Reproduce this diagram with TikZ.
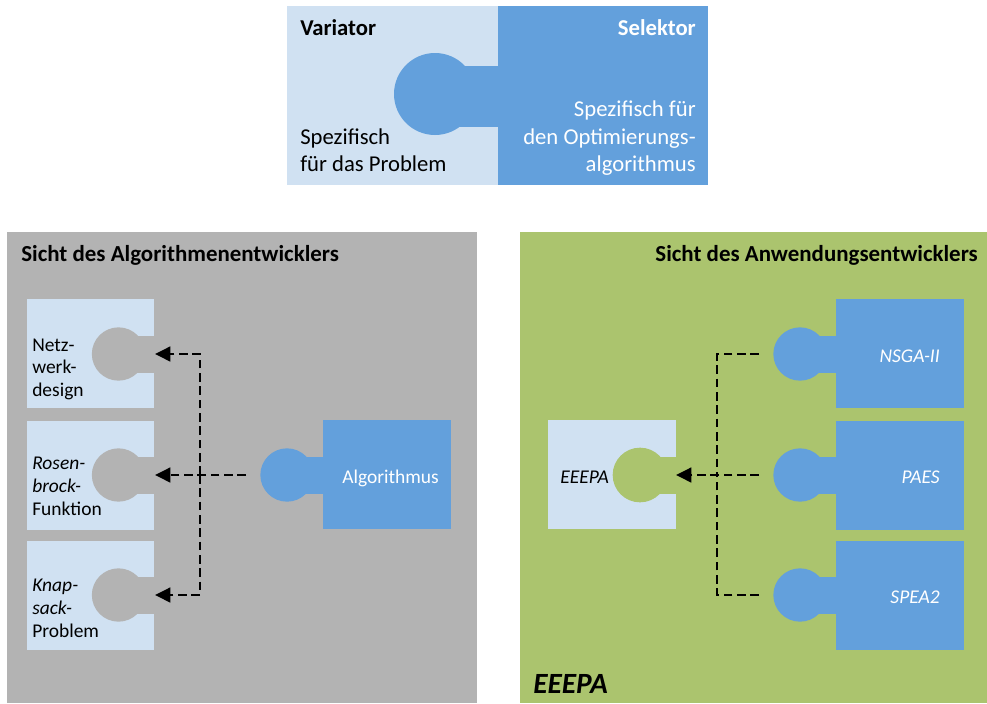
\documentclass[tikz,border=0pt]{standalone}
\usepackage{fontspec}
\setmainfont{Carlito}
\usetikzlibrary{arrows.meta}
\definecolor{lightblue}{HTML}{D0E1F2}
\definecolor{darkblue}{HTML}{63A0DC}
\definecolor{panelgray}{HTML}{B3B3B3}
\definecolor{panelgreen}{HTML}{ABC46E}
\tikzset{
  lbl/.style={inner sep=0pt, anchor=base west, font=\fontsize{14.6}{17}\selectfont},
  lblr/.style={lbl, anchor=base east},
  toplbl/.style={inner sep=0pt, anchor=base west, font=\fontsize{17}{20}\selectfont},
  toplblr/.style={toplbl, anchor=base east},
  title/.style={inner sep=0pt, font=\fontsize{17.2}{20}\selectfont\bfseries},
  conn/.style={draw=black, line width=1.9pt, dash pattern=on 6.5pt off 3.5pt},
  tip/.style={-{Triangle[length=11.5pt,width=11pt]}},
}
\begin{document}
\begin{tikzpicture}[x=0.75pt,y=-0.75pt]
\useasboundingbox (0,0) rectangle (987,703);
\fill[white] (0,0) rectangle (987,703);

% ---------- top: Variator / Selektor ----------
\fill[lightblue] (287,6) rectangle (498,185);
\fill[darkblue] (498,6) rectangle (708,185);
\fill[darkblue] (435,94) circle[radius=30.75pt];
\fill[darkblue] (455,66) rectangle (498,127);
\node[toplbl, font=\fontsize{17}{20}\selectfont\bfseries] (var) at (300,35) {Variator};
\node[toplblr, text=white, font=\fontsize{17}{20}\selectfont\bfseries] (sel) at (696,35) {Selektor};
\node[toplbl] (vt1) at (300,144) {Spezifisch};
\node[toplbl] (vt2) at (300,171) {für das Problem};
\node[toplblr, text=white] (st1) at (696,116) {Spezifisch für};
\node[toplblr, text=white] (st2) at (696,144) {den Optimierungs-};
\node[toplblr, text=white] (st3) at (696,171) {algorithmus};

% ---------- left panel ----------
\fill[panelgray] (7,232) rectangle (477,703);
\node[title, anchor=base west] (tl) at (21,261) {Sicht des Algorithmenentwicklers};

% problem pieces with sockets
\foreach \t/\c in {299/354, 421/475, 541/595} {
  \fill[lightblue] (27,\t) rectangle (154,\t+109);
  \fill[panelgray] (118.5,\c) circle[radius=20pt];
  \fill[panelgray] (118.5,\c-18.5) rectangle (154.5,\c+18.5);
}
\node[lbl] (n1) at (32,351) {Netz-};
\node[lbl] (n2) at (32,373) {werk-};
\node[lbl] (n3) at (32,396) {design};
\node[lbl] (r1) at (32,469) {\itshape Rosen-};
\node[lbl] (r2) at (32,492) {\itshape brock-};
\node[lbl] (r3) at (32,515) {Funktion};
\node[lbl] (k1) at (32,591) {\itshape Knap-};
\node[lbl] (k2) at (32,614) {\itshape sack-};
\node[lbl] (k3) at (32,637) {Problem};

% algorithm piece with knob
\fill[darkblue] (323,420) rectangle (451,529);
\fill[darkblue] (287,475) circle[radius=20pt];
\fill[darkblue] (287,456.5) rectangle (323,493.5);
\node[inner sep=0pt, anchor=base, text=white, font=\fontsize{14.6}{17}\selectfont] (alg) at (390.5,483) {Algorithmus};

\coordinate (kAlg) at (246,475);
\coordinate (jL) at (200,475);
\coordinate (hNetz) at (155,354);
\coordinate (hRos) at (155,475);
\coordinate (hKnap) at (155,595);
\draw[conn, tip] (kAlg) -- (hRos);
\draw[conn, tip] (jL) |- (hNetz);
\draw[conn, tip] (jL) |- (hKnap);

% ---------- right panel ----------
\fill[panelgreen] (520,232) rectangle (987,703);
\node[title, anchor=base east] (tr) at (978,261) {Sicht des Anwendungsentwicklers};

% algorithm pieces with knobs
\foreach \t/\c in {299/354, 421/475, 541/595} {
  \fill[darkblue] (836,\t) rectangle (964,\t+109);
  \fill[darkblue] (800,\c) circle[radius=20pt];
  \fill[darkblue] (800,\c-18.5) rectangle (836,\c+18.5);
}
\node[lblr, text=white] (nsga) at (940,362) {\itshape NSGA-II};
\node[lblr, text=white] (paes) at (940,483) {\itshape PAES};
\node[lblr, text=white] (spea) at (940,603) {\itshape SPEA2};

% EEEPA piece with socket
\fill[lightblue] (548,420) rectangle (676,529);
\fill[panelgreen] (640,475) circle[radius=20.5pt];
\fill[panelgreen] (640,456.5) rectangle (676.5,493.5);
\node[lbl] (ee) at (560,483) {\itshape EEEPA};
\node[inner sep=0pt, anchor=base west, font=\fontsize{22}{26}\selectfont\bfseries\itshape] (eebig) at (533,693) {EEEPA};

\coordinate (kNsga) at (759,354);
\coordinate (kPaes) at (759,475);
\coordinate (kSpea) at (759,595);
\coordinate (jR) at (717,475);
\coordinate (hEe) at (676,475);
\draw[conn] (kNsga) -| (jR);
\draw[conn] (kSpea) -| (jR);
\draw[conn, tip] (kPaes) -- (hEe);
\end{tikzpicture}
\end{document}
